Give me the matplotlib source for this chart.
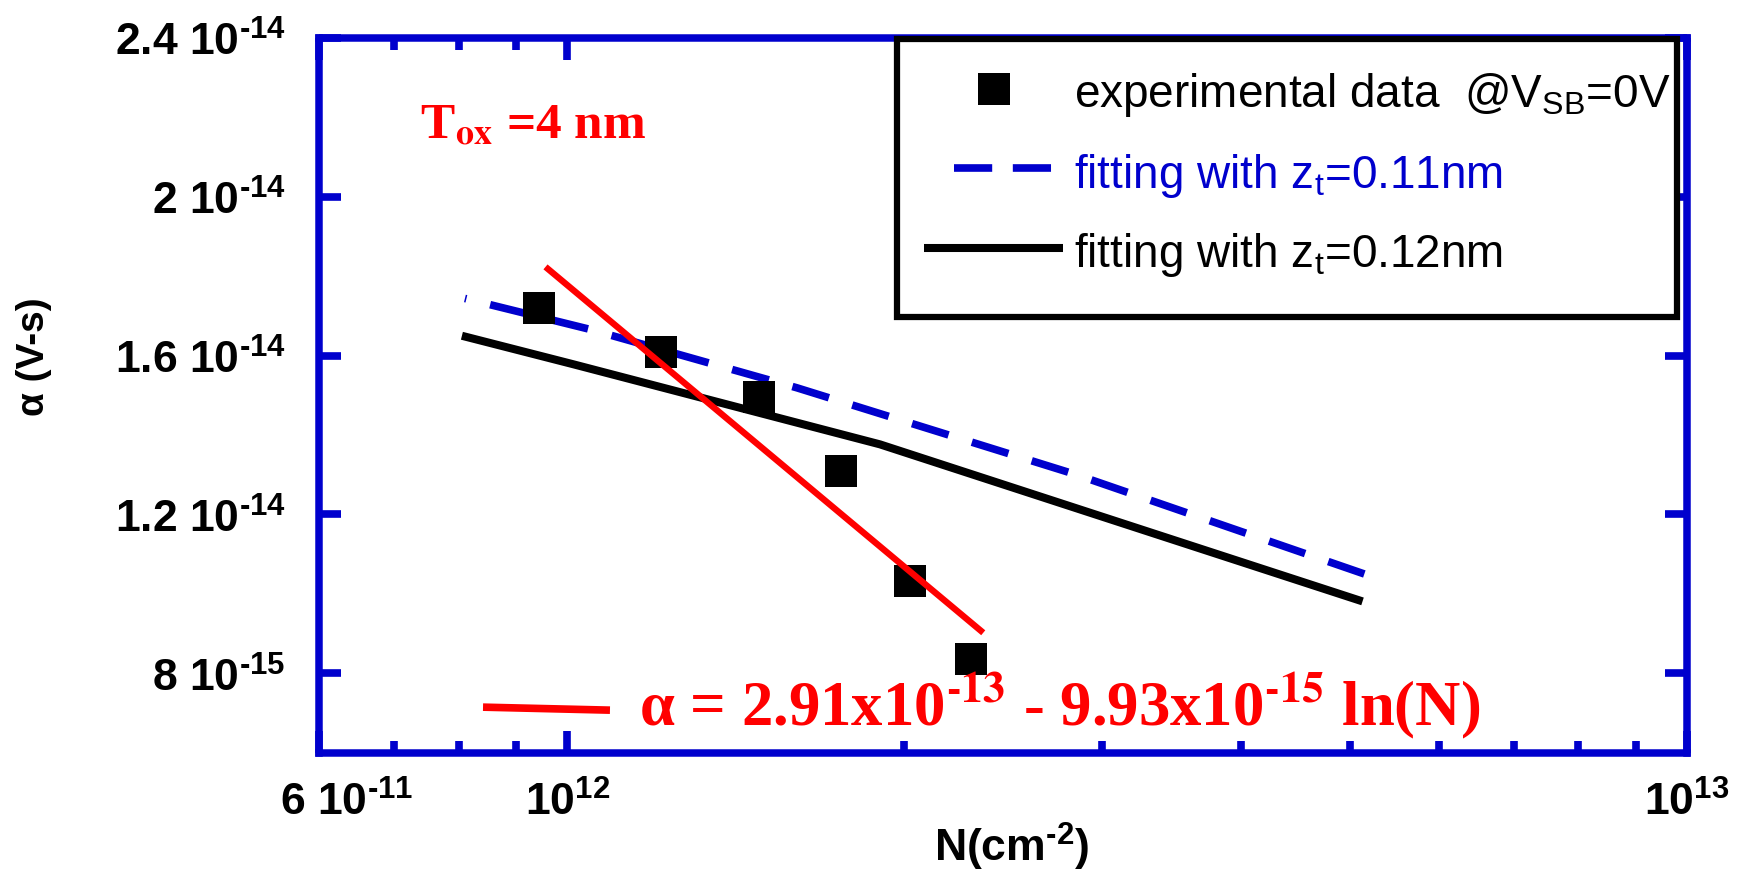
import matplotlib
matplotlib.use('Agg')
import matplotlib.pyplot as plt
from matplotlib.lines import Line2D
from matplotlib.patches import Rectangle
from matplotlib.ticker import FixedLocator, FixedFormatter, NullFormatter, NullLocator
import matplotlib.transforms as mtransforms

# ---------------- data ----------------
exp_N = [9.44e11, 1.2125e12, 1.4816e12, 1.7537e12, 2.0214e12, 2.2914e12]
exp_alpha = [1.719e-14, 1.610e-14, 1.497e-14, 1.309e-14, 1.033e-14, 8.36e-15]

fit011_N = [8.10e11, 1.048e12, 1.603e12, 2.842e12, 5.163e12]
fit011_alpha = [1.744e-14, 1.666e-14, 1.519e-14, 1.301e-14, 1.049e-14]

fit012_N = [8.05e11, 1.013e12, 1.902e12, 5.131e12]
fit012_alpha = [1.650e-14, 1.578e-14, 1.3765e-14, 9.81e-15]

lnfit_N = [9.56e11, 2.352e12]
lnfit_alpha = [1.8235e-14, 9.02e-15]

HY = '\u2010'  # hyphen used in the original superscripts
xtick_values = [6e11, 1e12, 1e13]
xtick_labels = ['6 10$^{\\mathbf{' + HY + '11}}$', '10$^{\\mathbf{12}}$', '10$^{\\mathbf{13}}$']
xminor_values = [7e11, 8e11, 9e11, 2e12, 3e12, 4e12, 5e12, 6e12, 7e12, 8e12, 9e12]
ytick_values = [8e-15, 1.2e-14, 1.6e-14, 2e-14, 2.4e-14]
ytick_labels = ['8 10$^{\\mathbf{' + HY + '15}}$', '1.2 10$^{\\mathbf{' + HY + '14}}$',
                '1.6 10$^{\\mathbf{' + HY + '14}}$', '2 10$^{\\mathbf{' + HY + '14}}$',
                '2.4 10$^{\\mathbf{' + HY + '14}}$']

legend_labels = ['experimental data  @V$_{\\mathrm{SB}}$=0V',
                 'fitting with z$_{\\mathrm{t}}$=0.11nm',
                 'fitting with z$_{\\mathrm{t}}$=0.12nm']
formula_text = ('\u03b1 = 2.91x10$^{\\mathbf{' + HY + '13}}$ - 9.93x10$^{\\mathbf{' + HY +
                '15}}$ ln(N)')
tox_text = 'T$_{\\mathbf{ox}}$ =4 nm'
xlabel_text = 'N(cm$^{\\mathbf{' + HY + '2}}$)'
ylabel_text = '\u03b1 (V-s)'

# ---------------- style ----------------
plt.rcParams['font.family'] = ['Liberation Sans', 'DejaVu Sans']
plt.rcParams['mathtext.fontset'] = 'custom'
plt.rcParams['mathtext.rm'] = 'Liberation Sans:weight=normal'
plt.rcParams['mathtext.bf'] = 'Liberation Sans:weight=bold'
plt.rcParams['mathtext.it'] = 'Liberation Sans:italic'
plt.rcParams['mathtext.sf'] = 'Liberation Sans:weight=normal'

BLUE = '#0000CD'

fig = plt.figure(figsize=(17.46, 8.78), dpi=100)
ax = fig.add_axes([0.1827, 0.1416, 0.7835, 0.8140])
ax.set_xscale('log')
ax.set_xlim(6e11, 1e13)
ax.set_ylim(6e-15, 2.4e-14)

dash_style = (4.8, (5.0, 3.2))
ax.plot(fit012_N, fit012_alpha, color='black', lw=5.8, solid_capstyle='butt', zorder=2)
ax.plot(fit011_N, fit011_alpha, color=BLUE, lw=5.5, linestyle=dash_style,
        dash_capstyle='butt', zorder=2)
ax.plot(exp_N, exp_alpha, linestyle='none', marker='s', ms=23, color='black',
        mec='black', mew=0, zorder=3)
ax.plot(lnfit_N, lnfit_alpha, color='red', lw=4.6, solid_capstyle='butt', zorder=4)

# ticks
ax.xaxis.set_major_locator(FixedLocator(xtick_values))
ax.xaxis.set_major_formatter(FixedFormatter(xtick_labels))
ax.xaxis.set_minor_locator(FixedLocator(xminor_values))
ax.xaxis.set_minor_formatter(NullFormatter())
ax.yaxis.set_major_locator(FixedLocator(ytick_values))
ax.yaxis.set_major_formatter(FixedFormatter(ytick_labels))
ax.yaxis.set_minor_locator(NullLocator())

ax.tick_params(axis='both', which='both', direction='in', top=True, right=True,
               color=BLUE, width=5.5, labelsize=32)
ax.tick_params(axis='both', which='major', length=16)
ax.tick_params(axis='both', which='minor', length=8.4)
ax.tick_params(axis='y', pad=24)
ax.tick_params(axis='x', pad=20)
for lab in ax.get_xticklabels() + ax.get_yticklabels():
    lab.set_fontweight('bold')

for s in ax.spines.values():
    s.set_color(BLUE)
    s.set_linewidth(5.4)

# shift first x tick label right
first = ax.xaxis.get_major_ticks()[0]
first.label1.set_transform(first.label1.get_transform() +
                           mtransforms.ScaledTranslation(0.28, 0, fig.dpi_scale_trans))

ax.set_xlabel(xlabel_text, fontsize=32, fontweight='bold')
ax.xaxis.set_label_coords(0.506, -0.094)
ax.set_ylabel(ylabel_text, fontsize=28, fontweight='bold', va='center')
ax.yaxis.set_label_coords(-0.208, 0.555)

# legend box (drawn manually to match layout)
T = ax.transAxes
ax.add_patch(Rectangle((0.4222, 0.6096), 0.9927 - 0.4222, 0.9986 - 0.6096, transform=T,
                       facecolor='white', edgecolor='black', lw=4.5, zorder=5, clip_on=False))
ax.add_line(Line2D([0.4932], [0.9280], transform=T, linestyle='none', marker='s', ms=23,
                   color='black', mew=0, zorder=6))
ax.add_line(Line2D([0.4644, 0.5380], [0.8174, 0.8174], transform=T, color=BLUE, lw=5.5,
                   linestyle=(0, (5.0, 2.7)), dash_capstyle='butt', zorder=6))
ax.add_line(Line2D([0.4420, 0.5439], [0.7062, 0.7062], transform=T, color='black', lw=5.8,
                   solid_capstyle='butt', zorder=6))
legend_colors = ['black', BLUE, 'black']
legend_y = [0.9044, 0.7911, 0.6814]
for lab, c, yy in zip(legend_labels, legend_colors, legend_y):
    ax.text(0.5522, yy, lab, transform=T, color=c, fontsize=33, fontweight='normal',
            ha='left', va='baseline', zorder=6)

# red fit legend segment and formula
ax.add_line(Line2D([0.1199, 0.2127], [0.0637, 0.0595], transform=T, color='red', lw=5.5,
                   solid_capstyle='butt', zorder=6))
ax.text(0.2339, 0.0388, formula_text, transform=T, color='red', fontsize=45.2,
        family=['Liberation Serif', 'DejaVu Serif'], fontweight='bold',
        math_fontfamily='stix', ha='left', va='baseline', zorder=6)
ax.text(0.0738, 0.861, tox_text, transform=T, color='red', fontsize=37,
        family=['Liberation Serif', 'DejaVu Serif'], fontweight='bold',
        math_fontfamily='stix', ha='left', va='baseline', zorder=6)

fig.savefig('out.png', dpi=100)
